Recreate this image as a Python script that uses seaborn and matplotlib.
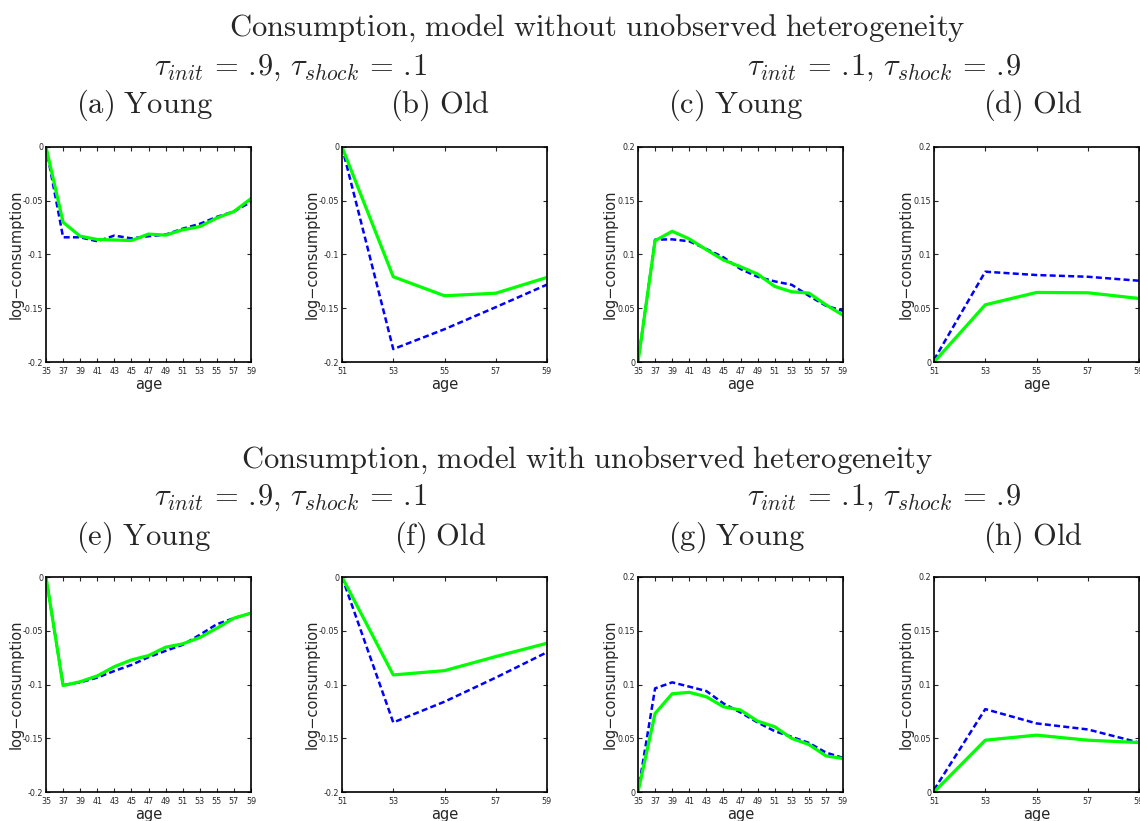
import matplotlib
matplotlib.use('Agg')
import matplotlib.pyplot as plt
import seaborn as sns
import pandas as pd

# --- DATA ---
young_ages = [35, 37, 39, 41, 43, 45, 47, 49, 51, 53, 55, 57, 59]
old_ages = [51, 53, 55, 57, 59]

# model without unobserved heterogeneity
a_blue = [0, -0.084, -0.084, -0.0877, -0.0824, -0.085, -0.083, -0.0815, -0.076, -0.0715, -0.065, -0.060, -0.051]
a_green = [0, -0.070, -0.083, -0.086, -0.0865, -0.087, -0.081, -0.082, -0.077, -0.074, -0.066, -0.060, -0.048]
b_blue = [0, -0.188, -0.1695, -0.149, -0.128]
b_green = [0, -0.1207, -0.1384, -0.136, -0.1213]
c_blue = [0, 0.1138, 0.1141, 0.1123, 0.1051, 0.0974, 0.0865, 0.0793, 0.075, 0.0718, 0.0616, 0.0523, 0.0476]
c_green = [0, 0.1129, 0.1216, 0.1145, 0.1045, 0.0949, 0.0886, 0.0818, 0.0703, 0.0653, 0.0641, 0.0532, 0.0435]
d_blue = [0.002, 0.084, 0.0809, 0.0793, 0.0756]
d_green = [0, 0.0532, 0.0647, 0.0644, 0.0591]

# model with unobserved heterogeneity
e_blue = [0, -0.1005, -0.098, -0.0936, -0.0874, -0.0818, -0.0746, -0.0687, -0.0631, -0.0538, -0.0439, -0.0383, -0.0336]
e_green = [0, -0.101, -0.0974, -0.092, -0.0834, -0.0771, -0.0731, -0.0653, -0.0622, -0.0563, -0.0476, -0.0383, -0.0336]
f_blue = [0, -0.1353, -0.116, -0.0936, -0.070]
f_green = [0, -0.0911, -0.0871, -0.074, -0.0616]
g_blue = [0, 0.0964, 0.102, 0.098, 0.0939, 0.0824, 0.074, 0.0647, 0.0566, 0.0513, 0.0457, 0.0367, 0.0317]
g_green = [0, 0.0731, 0.0914, 0.0927, 0.0886, 0.0793, 0.0762, 0.0659, 0.0607, 0.0498, 0.0442, 0.0336, 0.0311]
h_blue = [0.002, 0.0771, 0.0638, 0.0582, 0.046]
h_green = [0, 0.0482, 0.0529, 0.0482, 0.046]

neg_ticks = [-0.2, -0.15, -0.1, -0.05, 0]
pos_ticks = [0, 0.05, 0.1, 0.15, 0.2]

sns.set_style('ticks')
plt.rcParams['font.family'] = ['Liberation Sans Narrow', 'DejaVu Sans']
plt.rcParams['mathtext.fontset'] = 'cm'
plt.rcParams['axes.unicode_minus'] = False

fig = plt.figure(figsize=(11.4, 8.21), dpi=100)
W, H = 1140.0, 821.0

# (ages, blue, green, yticks, left px, top px)
panels = [
    (young_ages, a_blue, a_green, neg_ticks, 46, 147),
    (old_ages, b_blue, b_green, neg_ticks, 342, 147),
    (young_ages, c_blue, c_green, pos_ticks, 638, 147),
    (old_ages, d_blue, d_green, pos_ticks, 934, 147),
    (young_ages, e_blue, e_green, neg_ticks, 46, 577),
    (old_ages, f_blue, f_green, neg_ticks, 342, 577),
    (young_ages, g_blue, g_green, pos_ticks, 638, 577),
    (old_ages, h_blue, h_green, pos_ticks, 934, 577),
]

for ages, blue, green, yt, lpx, tpx in panels:
    ax = fig.add_axes([lpx / W, 1 - (tpx + 215) / H, 205 / W, 215 / H])
    df = pd.DataFrame({'age': ages, 'blue': blue, 'green': green})
    sns.lineplot(data=df, x='age', y='blue', ax=ax, color='#0000ff',
                 linewidth=1.8, linestyle=(0, (2.4, 1.3)))
    sns.lineplot(data=df, x='age', y='green', ax=ax, color='#00ff00', linewidth=2.3)
    ax.set_xlim(ages[0], ages[-1])
    ax.set_ylim(yt[0], yt[-1])
    ax.set_xticks(ages)
    ax.set_yticks(yt)
    ax.set_yticklabels([f'{v:g}' for v in yt])
    ax.tick_params(direction='in', length=3, width=0.8, labelsize=5.8,
                   top=True, right=True, pad=2)
    ax.tick_params(axis='x', pad=3.5)
    for s in ax.spines.values():
        s.set_linewidth(1.2)
        s.set_color('black')
    ax.set_xlabel('age', fontsize=10.5, labelpad=1, family='DejaVu Sans')
    ax.set_ylabel('log−consumption', fontsize=10.5, family='DejaVu Sans')
    ax.yaxis.set_label_coords(-0.11 if yt[0] < 0 else -0.1, 0.5)

# --- titles ---
fs = 22
def t(x, y, s):
    fig.text(x / W, 1 - y / H, s, ha='center', va='center', fontsize=fs)

tau_a = r'$\tau_{init}\,=\,\mathrm{.\!9},\,\tau_{shock}\,=\,\mathrm{.\!1}$'
tau_b = r'$\tau_{init}\,=\,\mathrm{.\!1},\,\tau_{shock}\,=\,\mathrm{.\!9}$'

t(597, 28, r'$\mathrm{Consumption{,}\ model\ without\ unobserved\ heterogeneity}$')
t(290, 68, tau_a)
t(884, 68, tau_b)
t(144, 105, r'$\mathrm{(a)\ Young}$')
t(440, 105, r'$\mathrm{(b)\ Old}$')
t(736, 105, r'$\mathrm{(c)\ Young}$')
t(1033, 105, r'$\mathrm{(d)\ Old}$')

t(587, 460, r'$\mathrm{Consumption{,}\ model\ with\ unobserved\ heterogeneity}$')
t(290, 498, tau_a)
t(884, 498, tau_b)
t(144, 537, r'$\mathrm{(e)\ Young}$')
t(440, 537, r'$\mathrm{(f)\ Old}$')
t(736, 537, r'$\mathrm{(g)\ Young}$')
t(1033, 537, r'$\mathrm{(h)\ Old}$')

fig.savefig('out.png', dpi=100)
